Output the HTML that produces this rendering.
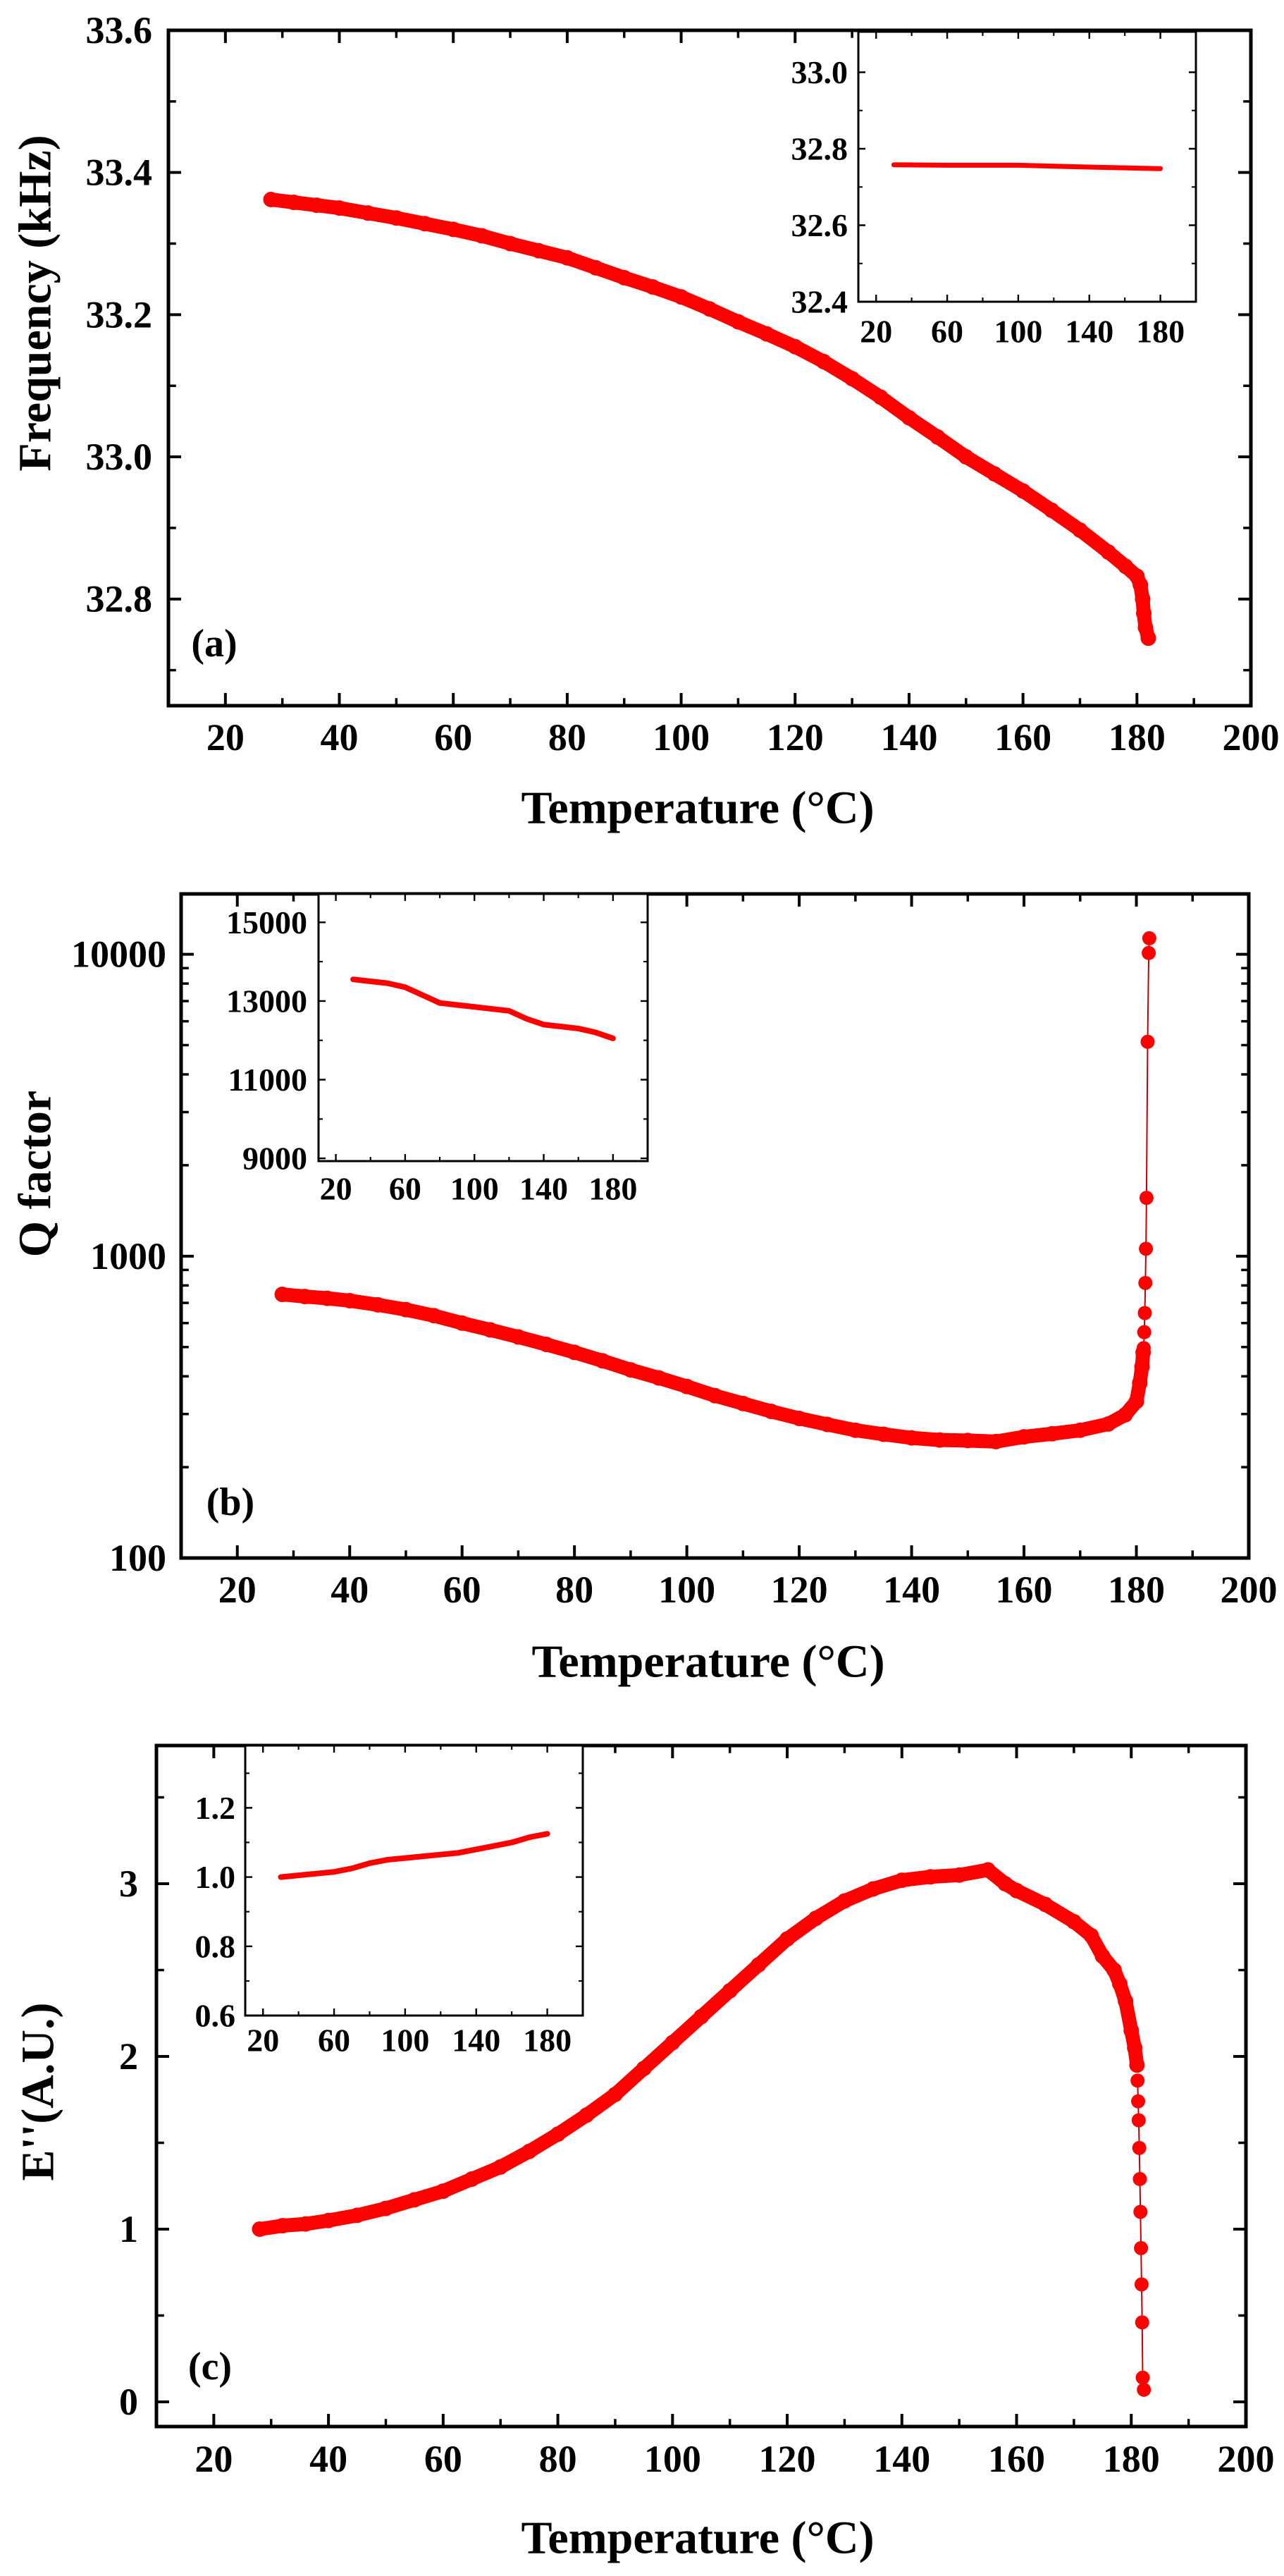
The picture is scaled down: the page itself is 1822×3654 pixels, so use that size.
<!DOCTYPE html>
<html><head><meta charset="utf-8">
<style>
html,body{margin:0;padding:0;background:#fff;}
svg{display:block;font-family:"Liberation Serif",serif;font-weight:bold;}
</style></head>
<body>
<svg id="fig" width="1822" height="3654" viewBox="0 0 1822 3654" xmlns="http://www.w3.org/2000/svg"></svg>
<script>
// ---- Panel (a) data: frequency (kHz) vs temperature ----
const tempA = [28,32,36,40,45,50,55,60,65,70,75,80,85,90,95,100,105,110,115,120,125,130,135,140,145,150,155,160,165,170,175,178,180,180.6,181,181.2,181.5,182];
const freqA = [33.362,33.358,33.354,33.350,33.343,33.336,33.328,33.320,33.311,33.300,33.290,33.280,33.266,33.252,33.239,33.225,33.208,33.190,33.173,33.155,33.134,33.110,33.084,33.055,33.028,33.000,32.976,32.952,32.925,32.897,32.866,32.846,32.832,32.820,32.800,32.780,32.760,32.745];
const insetTempA = [30,60,100,140,180];
const insetFreqA = [32.758,32.757,32.757,32.752,32.748];
// ---- Panel (b) data: Q factor vs temperature ----
const tempB = [28,32,36,40,45,50,55,60,65,70,75,80,85,90,95,100,105,110,115,120,125,130,135,140,145,150,155,160,165,170,175,178,180,180.6,181,181.2];
const qB = [747,735,725,712,690,665,635,600,570,540,510,480,450,420,395,370,345,325,306,290,277,265,257,250,246,245,243,252,258,265,278,298,330,380,430,480];
const dotTempB = [181.3,181.4,181.5,181.6,181.7,181.8,182.0,182.2,182.3];
const dotQB = [496,560,648,815,1058,1560,5130,10100,11300];
const insetTempB = [30,40,50,60,70,80,90,100,110,120,130,140,150,160,170,180];
const insetQB = [13550,13500,13450,13350,13150,12950,12900,12850,12800,12750,12550,12400,12350,12300,12200,12050];
// ---- Panel (c) data: E'' vs temperature ----
const tempC = [28,32,36,40,45,50,55,60,65,70,75,80,85,90,95,100,105,110,115,120,125,130,135,140,145,150,155,158,160,165,170,173,175,177,178,179,180,180.6,181];
const eC = [1.0,1.02,1.03,1.05,1.08,1.12,1.17,1.22,1.29,1.36,1.45,1.55,1.66,1.78,1.93,2.08,2.23,2.38,2.53,2.68,2.80,2.90,2.97,3.02,3.04,3.05,3.08,3.00,2.96,2.88,2.78,2.70,2.58,2.50,2.42,2.32,2.15,2.05,1.95];
const dotTempC = [181.1,181.2,181.3,181.4,181.5,181.6,181.7,181.8,181.9,182.0,182.2];
const dotEC = [1.86,1.74,1.63,1.47,1.29,1.10,0.89,0.68,0.46,0.14,0.07];
const insetTempC = [30,40,50,60,70,80,90,100,110,120,130,140,150,160,170,180];
const insetEC = [1.0,1.005,1.01,1.015,1.025,1.04,1.05,1.055,1.06,1.065,1.07,1.08,1.09,1.10,1.115,1.125];
// ---- tick labels ----
const xTickLabels = ["20","40","60","80","100","120","140","160","180","200"];
const insetXTickLabels = ["20","60","100","140","180"];
const yTicksA = ["32.8","33.0","33.2","33.4","33.6"];
const yTicksInsetA = ["32.4","32.6","32.8","33.0"];
const yTicksB = ["100","1000","10000"];
const yTicksInsetB = ["9000","11000","13000","15000"];
const yTicksC = ["0","1","2","3"];
const yTicksInsetC = ["0.6","0.8","1.0","1.2"];

const NS = "http://www.w3.org/2000/svg";
const fig = document.getElementById('fig');
function mk(tag, attrs, parent){
  const e = document.createElementNS(NS, tag);
  for (const k in attrs) e.setAttribute(k, attrs[k]);
  (parent||fig).appendChild(e);
  return e;
}
function linScale(d0,d1,r0,r1){return v=>r0+(v-d0)/(d1-d0)*(r1-r0);}
function logScale(d0,d1,r0,r1){return v=>r0+(Math.log10(v)-d0)/(d1-d0)*(r1-r0);}

function axesBox(g, L, R, T, B, sx, sy, xMaj, xMin, yMaj, yMin, tl, sw){
  const frame = mk('rect',{x:L,y:T,width:R-L,height:B-T,fill:'none',stroke:'#000','stroke-width':sw},g);
  
  
  xMaj.forEach(v=>{const x=sx(v);
    const t=mk('path',{d:`M${x},${B}v${-tl}M${x},${T}v${tl}`,stroke:'#000','stroke-width':sw*0.8},g);
    
    });
  xMin.forEach(v=>{const x=sx(v);
    const t=mk('path',{d:`M${x},${B}v${-tl*0.6}M${x},${T}v${tl*0.6}`,stroke:'#000','stroke-width':sw*0.7},g);
    
    });
  yMaj.forEach(v=>{const y=sy(v);
    const t=mk('path',{d:`M${L},${y}h${tl}M${R},${y}h${-tl}`,stroke:'#000','stroke-width':sw*0.8},g);
    
    });
  yMin.forEach(v=>{const y=sy(v);
    const t=mk('path',{d:`M${L},${y}h${tl*0.6}M${R},${y}h${-tl*0.6}`,stroke:'#000','stroke-width':sw*0.7},g);
    
    });
}
function xLabels(g, labels, sx, y, fs){
  labels.forEach(s=>{const t=mk('text',{x:sx(+s),y:y,'font-size':fs,'text-anchor':'middle','dominant-baseline':'central'},g);
    t.textContent=s;
    
    });
}
function yLabels(g, labels, sy, x, fs){
  labels.forEach(s=>{const t=mk('text',{x:x,y:sy(+s),'font-size':fs,'text-anchor':'end','dominant-baseline':'central'},g);
    t.textContent=s;
    
    });
}
function series(g, xs, ys, sx, sy, w, r, name){
  const pts = xs.map((v,i)=>sx(v)+','+sy(ys[i])).join(' ');
  const pl = mk('polyline',{points:pts,fill:'none',stroke:'#ff0000','stroke-width':w,'stroke-linejoin':'round','stroke-linecap':'round'},g);
  
  
  if (r>0) xs.forEach((v,i)=>{const c=mk('circle',{cx:sx(v),cy:sy(ys[i]),r:r,fill:'#ff0000'},g);
    
    });
}
function dots(g, xs, ys, sx, sy, r, name){
  const pts = xs.map((v,i)=>sx(v)+','+sy(ys[i])).join(' ');
  const pl = mk('polyline',{points:pts,fill:'none',stroke:'#c00000','stroke-width':2},g);
  
  
  xs.forEach((v,i)=>{const c=mk('circle',{cx:sx(v),cy:sy(ys[i]),r:r,fill:'#ff0000'},g);
    
    });
}
function text(g, s, x, y, fs, name, rot){
  const t=mk('text',{x:x,y:y,'font-size':fs,'text-anchor':'middle','dominant-baseline':'central'},g);
  if (rot) t.setAttribute('transform',`rotate(-90 ${x} ${y})`);
  t.textContent=s;
  
  
  return t;
}
const range=(a,b,s)=>{const r=[];for(let v=a;v<=b+1e-9;v+=s)r.push(+v.toFixed(4));return r;};
const xMaj = range(20,200,20), xMin = range(10,190,20);
const ixMaj = range(20,180,40), ixMin = range(40,200,40);

// ===== Panel (a) =====
const gA = mk('g',{});


{
  const L=239,R=1775,T=43,B=1001;
  const sx=linScale(10,200,L,R), sy=linScale(32.65,33.6,B,T);
  axesBox(gA,L,R,T,B,sx,sy,xMaj,xMin,range(32.8,33.6,0.2),range(32.7,33.5,0.2),18,5);
  xLabels(gA,xTickLabels,sx,1046,54);
  yLabels(gA,yTicksA,sy,216,54);
  series(gA,tempA,freqA,sx,sy,20,11,'frequency-series');
  text(gA,'(a)',304,913,56,'panel-label-a');
  text(gA,'Temperature (°C)',990,1146,66,'x-axis-title');
  text(gA,'Frequency (kHz)',50,430,66,'y-axis-title',true);
  const iL=1218,iR=1697,iT=45,iB=428;
  const isx=linScale(10,200,iL,iR), isy=linScale(32.4,33.106,iB,iT);
  const gi=mk('g',{},gA);
  
  
  mk('rect',{x:iL,y:iT,width:iR-iL,height:iB-iT,fill:'#fff'},gi);
  axesBox(gi,iL,iR,iT,iB,isx,isy,ixMaj,ixMin,range(32.4,33.0,0.2),range(32.5,32.9,0.2),10,3);
  xLabels(gi,insetXTickLabels,isx,470,46);
  yLabels(gi,yTicksInsetA,isy,1203,46);
  series(gi,insetTempA,insetFreqA,isx,isy,7,0,'inset-frequency-series');
}

// ===== Panel (b) =====
const gB = mk('g',{});


{
  const L=257,R=1772,T=1268,B=2210;
  const sx=linScale(10,200,L,R), sy=logScale(2,4.2,B,T);
  const minors=[];[100,1000,10000].forEach(d=>{for(let k=2;k<=9;k++){const v=d*k;if(Math.log10(v)<=4.2)minors.push(v);}});
  axesBox(gB,L,R,T,B,sx,sy,xMaj,xMin,[100,1000,10000],minors,18,5);
  xLabels(gB,xTickLabels,sx,2255,54);
  yLabels(gB,yTicksB,sy,236,54);
  series(gB,tempB,qB,sx,sy,20,11,'q-factor-series');
  dots(gB,dotTempB,dotQB,sx,sy,10,'q-factor-transition');
  text(gB,'(b)',327,2131,56,'panel-label-b');
  text(gB,'Temperature (°C)',1005,2357,66,'x-axis-title');
  text(gB,'Q factor',50,1665,66,'y-axis-title',true);
  const iL=452,iR=919,iT=1268,iB=1647;
  const isx=linScale(10,200,iL,iR), isy=linScale(8930,15722,iB,iT);
  const gi=mk('g',{},gB);
  
  
  mk('rect',{x:iL,y:iT,width:iR-iL,height:iB-iT,fill:'#fff'},gi);
  axesBox(gi,iL,iR,iT,iB,isx,isy,ixMaj,ixMin,range(9000,15000,2000),range(10000,14000,2000),10,3);
  xLabels(gi,insetXTickLabels,isx,1686,46);
  yLabels(gi,yTicksInsetB,isy,436,46);
  series(gi,insetTempB,insetQB,isx,isy,8,0,'inset-q-factor-series');
}

// ===== Panel (c) =====
const gC = mk('g',{});


{
  const L=222,R=1768,T=2476,B=3442;
  const sx=linScale(10,200,L,R), sy=linScale(-0.143,3.8,B,T);
  axesBox(gC,L,R,T,B,sx,sy,xMaj,xMin,[0,1,2,3],[0.5,1.5,2.5,3.5],18,5);
  xLabels(gC,xTickLabels,sx,3488,54);
  yLabels(gC,yTicksC,sy,196,54);
  series(gC,tempC,eC,sx,sy,20,11,'loss-modulus-series');
  dots(gC,dotTempC,dotEC,sx,sy,10,'loss-modulus-transition');
  text(gC,'(c)',298,3357,56,'panel-label-c');
  text(gC,'Temperature (°C)',990,3600,66,'x-axis-title');
  text(gC,"E''(A.U.)",54,2967,66,'y-axis-title',true);
  const iL=348,iR=827,iT=2476,iB=2859;
  const isx=linScale(10,200,iL,iR), isy=linScale(0.6,1.38,iB,iT);
  const gi=mk('g',{},gC);
  
  
  mk('rect',{x:iL,y:iT,width:iR-iL,height:iB-iT,fill:'#fff'},gi);
  axesBox(gi,iL,iR,iT,iB,isx,isy,ixMaj,ixMin,range(0.6,1.2,0.2),range(0.7,1.3,0.2),10,3);
  xLabels(gi,insetXTickLabels,isx,2894,46);
  yLabels(gi,yTicksInsetC,isy,334,46);
  series(gi,insetTempC,insetEC,isx,isy,8,0,'inset-loss-modulus-series');
}
</script>
</body></html>
